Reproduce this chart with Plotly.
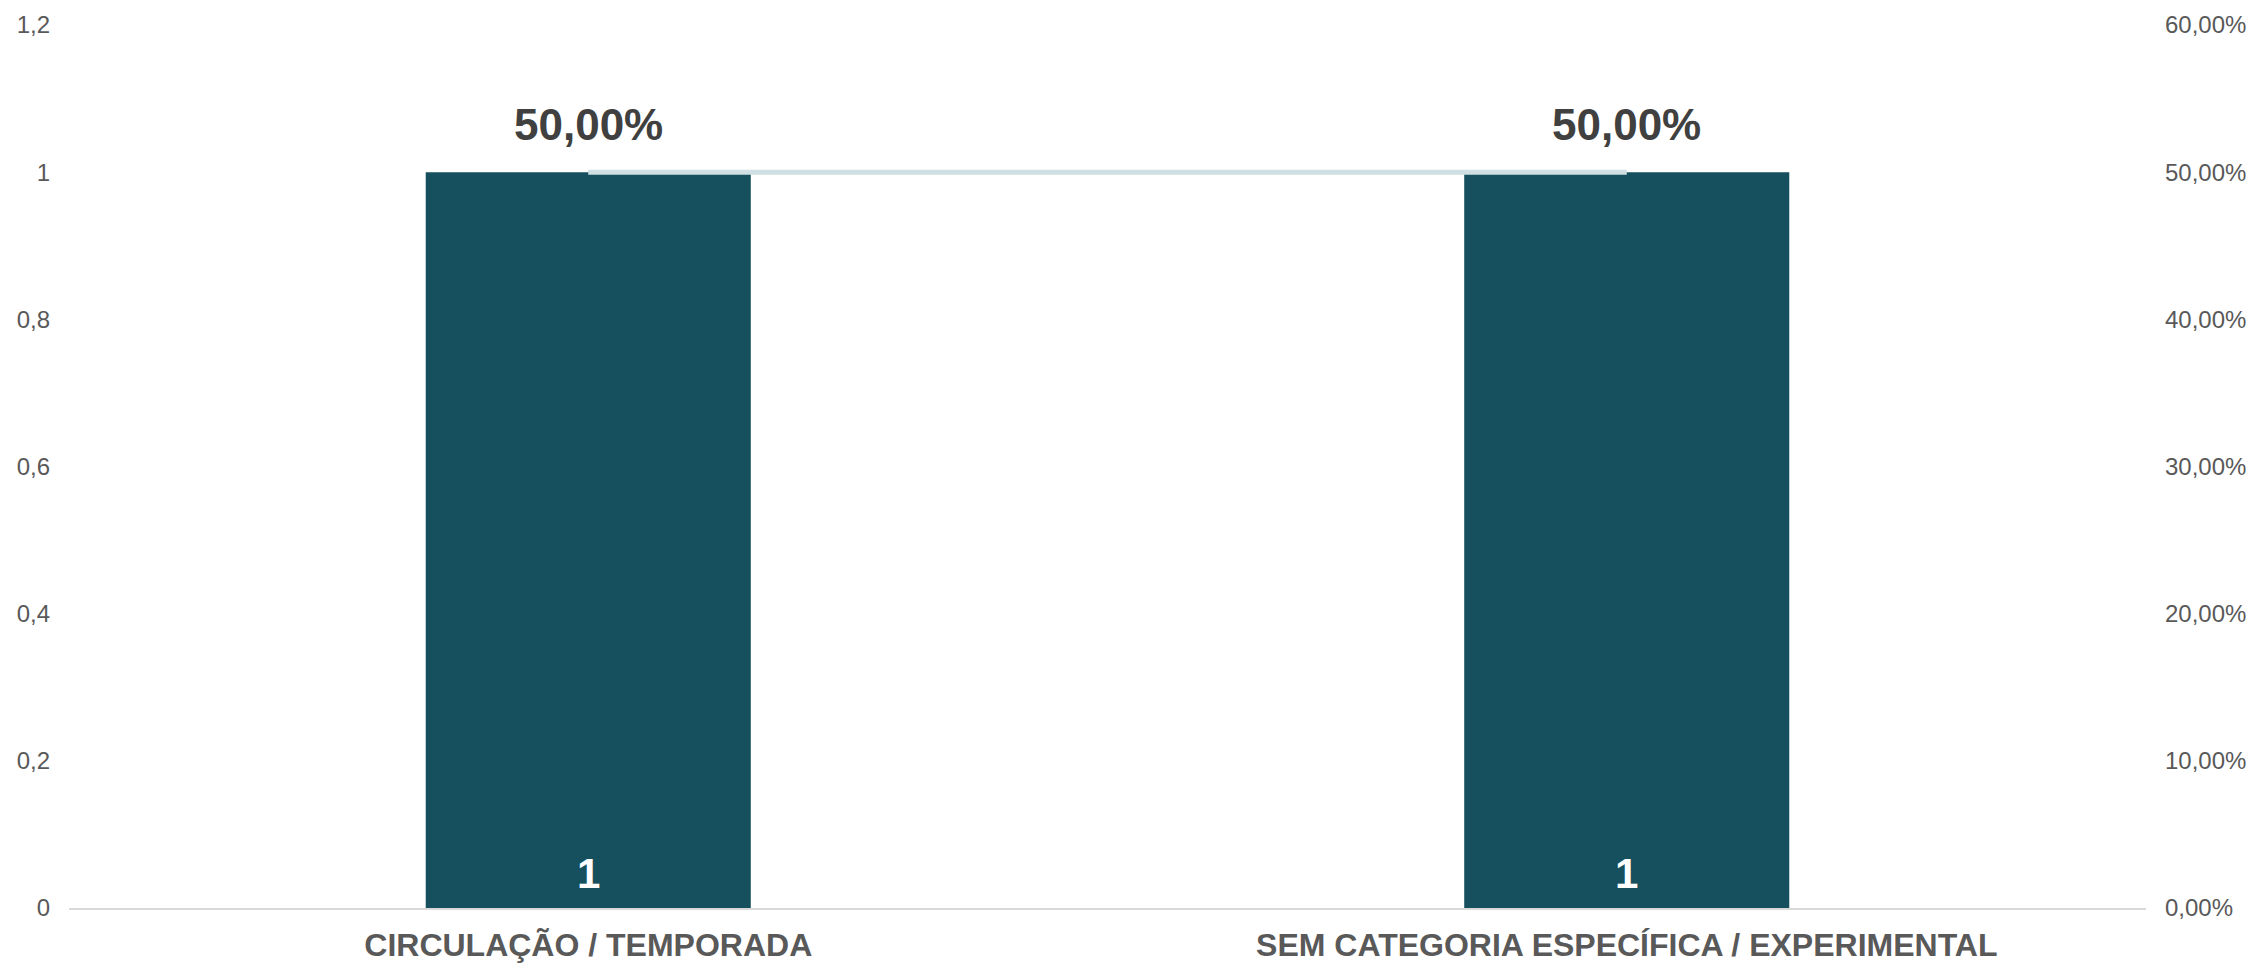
import plotly.graph_objects as go

categories = ["CIRCULAÇÃO / TEMPORADA", "SEM CATEGORIA ESPECÍFICA / EXPERIMENTAL"]
counts = [1, 1]
shares = [0.5, 0.5]
left_ticks = [0, 0.2, 0.4, 0.6, 0.8, 1.0, 1.2]
right_ticks = [0, 0.1, 0.2, 0.3, 0.4, 0.5, 0.6]

BAR_COLOR = "#164F5D"
LINE_COLOR = "#D0DFE3"
AXIS_TEXT = "#595959"
LABEL_FONT = "Liberation Sans, Arial, sans-serif"

fig = go.Figure()
fig.add_trace(go.Bar(
    x=categories, y=counts, marker=dict(color=BAR_COLOR, line=dict(width=0)),
    yaxis="y", hoverinfo="skip", showlegend=False,
))
fig.add_trace(go.Scatter(
    x=categories, y=shares, mode="lines", yaxis="y2",
    line=dict(color=LINE_COLOR, width=5), hoverinfo="skip", showlegend=False,
))

annotations = []
for c, v in zip(categories, counts):
    annotations.append(dict(
        x=c, y=0, xref="x", yref="y", text=f"{v}", showarrow=False,
        yanchor="bottom", yshift=9,
        font=dict(family=LABEL_FONT, size=42, color="white", weight="bold"),
    ))
for c, s in zip(categories, shares):
    annotations.append(dict(
        x=c, y=s, xref="x", yref="y2",
        text=f"{s*100:.2f}".replace(".", ",") + "%", showarrow=False,
        yanchor="middle", yshift=48,
        font=dict(family=LABEL_FONT, size=44, color="#404040", weight="bold"),
    ))

fig.update_layout(
    width=2251, height=963,
    margin=dict(l=69, r=105, t=25, b=55, autoexpand=False),
    paper_bgcolor="white", plot_bgcolor="white",
    separators=",.",
    bargap=0.687,
    annotations=annotations,
    xaxis=dict(
        showline=True, linecolor="#D9D9D9", linewidth=2, showgrid=False, automargin=False,
        tickfont=dict(family="Liberation Sans, Arial, sans-serif", size=32, color=AXIS_TEXT, weight="bold"),
        ticks="", ticklabelstandoff=8,
    ),
    yaxis=dict(
        range=[0, 1.2], tickvals=left_ticks, showgrid=False, zeroline=False, showline=False,
        automargin=False,
        tickfont=dict(family="Liberation Sans, Arial, sans-serif", size=24, color=AXIS_TEXT),
        ticklabelstandoff=18,
    ),
    yaxis2=dict(
        range=[0, 0.6], tickvals=right_ticks, tickformat=".2%", overlaying="y", side="right",
        showgrid=False, zeroline=False, showline=False, automargin=False,
        tickfont=dict(family="Liberation Sans, Arial, sans-serif", size=24, color=AXIS_TEXT),
        ticklabelstandoff=18,
    ),
)

fig.write_html(
    "out.html",
    config={"displayModeBar": False},
    post_script="document.body.style.margin='0';document.body.style.overflow='hidden';",
)
